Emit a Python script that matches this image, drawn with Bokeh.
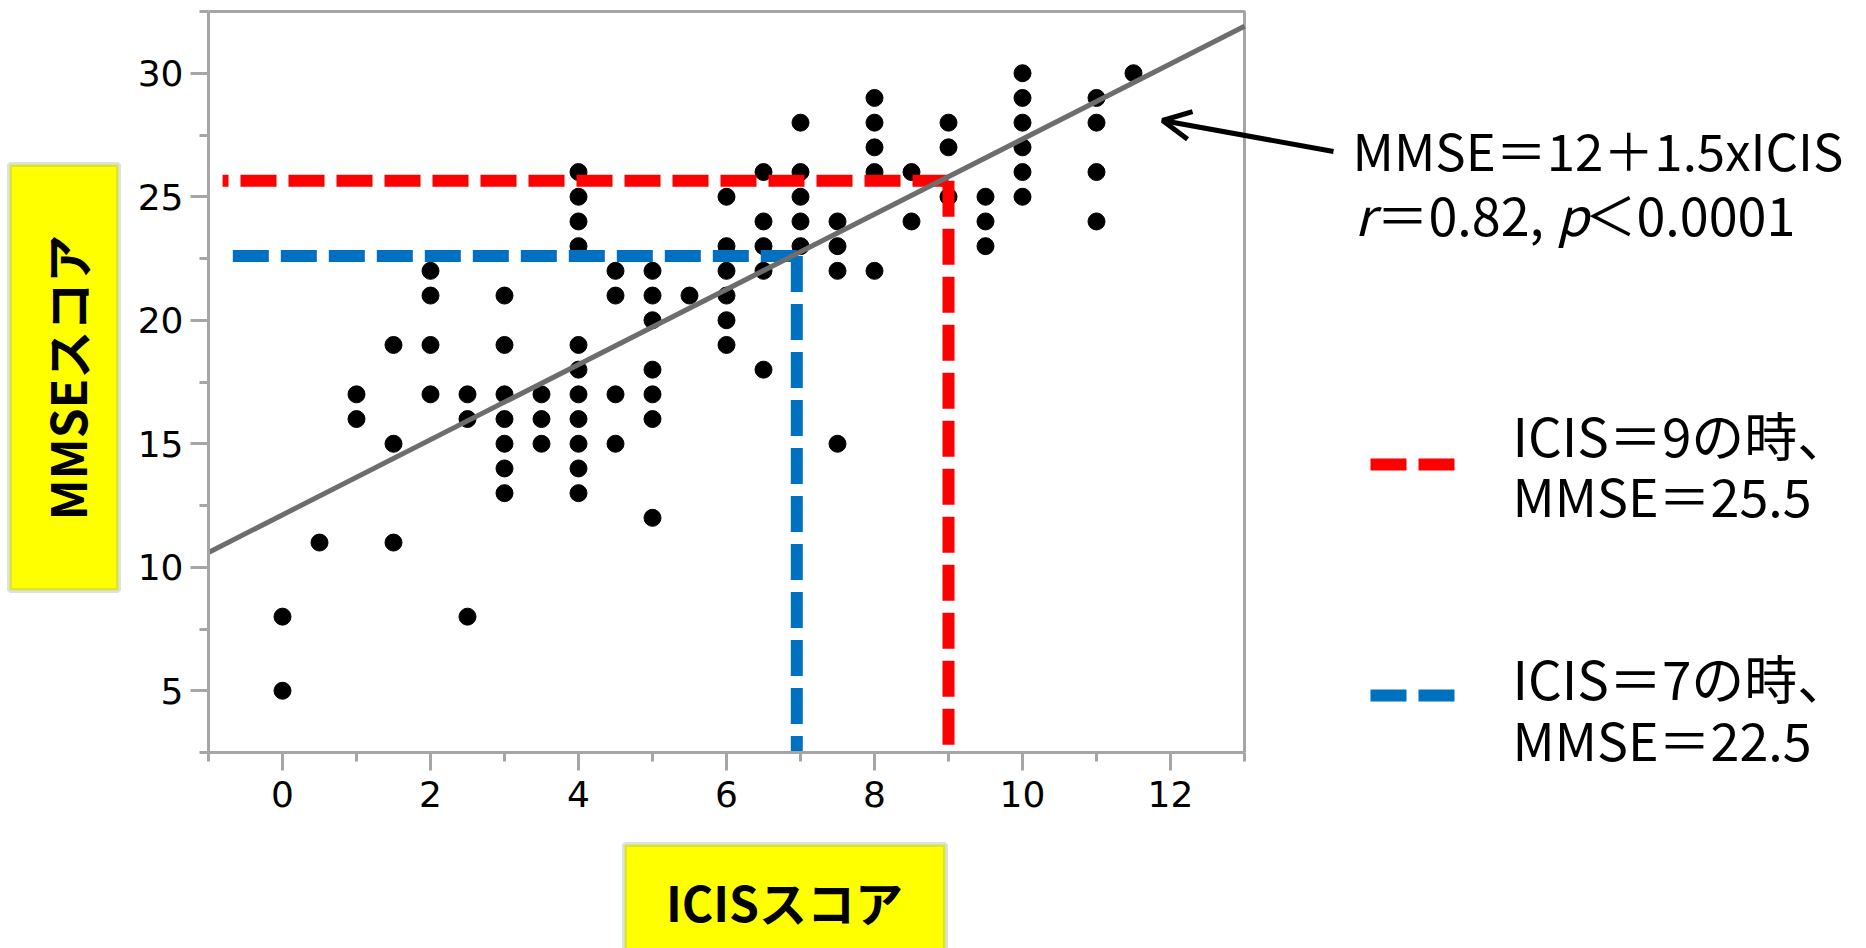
import math
from bokeh.plotting import figure
from bokeh.models import Label, BoxAnnotation, Arrow, OpenHead, FixedTicker, Range1d
from bokeh.embed import file_html
from bokeh.resources import INLINE

# ---------------- data ----------------
icis_scores = [0, 0, 0.5, 1, 1, 1.5, 1.5, 1.5, 2, 2, 2, 2, 2.5, 2.5, 2.5,
               3, 3, 3, 3, 3, 3, 3, 3.5, 3.5, 3.5,
               4, 4, 4, 4, 4, 4, 4, 4, 4, 4, 4,
               4.5, 4.5, 4.5, 4.5, 5, 5, 5, 5, 5, 5, 5, 5.5,
               6, 6, 6, 6, 6, 6, 6.5, 6.5, 6.5, 6.5, 6.5,
               7, 7, 7, 7, 7, 7.5, 7.5, 7.5, 7.5,
               8, 8, 8, 8, 8, 8.5, 8.5, 9, 9, 9, 9.5, 9.5, 9.5,
               10, 10, 10, 10, 10, 10, 11, 11, 11, 11, 11.5]
mmse_scores = [8, 5, 11, 17, 16, 19, 15, 11, 22, 21, 19, 17, 17, 16, 8,
               21, 19, 17, 16, 15, 14, 13, 17, 16, 15,
               26, 25, 24, 23, 19, 18, 17, 16, 15, 14, 13,
               22, 21, 17, 15, 22, 21, 20, 18, 17, 16, 12, 21,
               25, 23, 22, 21, 20, 19, 26, 24, 23, 22, 18,
               28, 26, 25, 24, 23, 24, 23, 22, 15,
               29, 28, 27, 26, 22, 26, 24, 28, 27, 25, 25, 24, 23,
               30, 29, 28, 27, 26, 25, 29, 28, 26, 24, 30]

fit_icis = [-1, 13]
fit_mmse = [10.6, 31.9]

red_icis, red_mmse = 9, 25.65
blue_icis, blue_mmse = 6.95, 22.6

x_ticks = [0, 2, 4, 6, 8, 10, 12]
x_minor = [-1, 1, 3, 5, 7, 9, 11, 13]
y_ticks = [5, 10, 15, 20, 25, 30]
y_minor = [2.5, 7.5, 12.5, 17.5, 22.5, 27.5, 32.5]

# ---------------- layout ----------------
W, H = 1866, 948
FL, FR, FT, FB = 208, 1244, 11, 752      # plot box edges in canvas pixels
X0, X1 = -1, 13
Y0, Y1 = 2.5, 32.5


def dx(cx):
    return X0 + (cx - FL) * (X1 - X0) / (FR - FL)


def dy(cy):
    return Y0 + (FB - cy) * (Y1 - Y0) / (FB - FT)


GREY = "#a6a6a6"
RED = "#ff0000"
BLUE = "#0070c0"
JP = "Noto Sans CJK JP"

p = figure(width=W, height=H, x_range=Range1d(dx(0), dx(W)), y_range=Range1d(dy(H), dy(0)),
           output_backend="svg", toolbar_location=None, title=None,
           min_border_left=0, min_border_right=0, min_border_top=0, min_border_bottom=0)
p.grid.visible = False
p.background_fill_color = "white"
p.border_fill_color = "white"
p.outline_line_color = None

p.xaxis.ticker = FixedTicker(ticks=x_ticks, minor_ticks=x_minor)
p.yaxis.ticker = FixedTicker(ticks=y_ticks, minor_ticks=y_minor)
p.xaxis.fixed_location = Y0
p.yaxis.fixed_location = X0
p.xaxis.bounds = (X0, X1)
p.yaxis.bounds = (Y0, Y1)
for ax in (p.xaxis[0], p.yaxis[0]):
    ax.axis_line_color = GREY
    ax.axis_line_width = 3
    ax.major_tick_line_color = GREY
    ax.major_tick_line_width = 3
    ax.minor_tick_line_color = GREY
    ax.minor_tick_line_width = 3
    ax.major_tick_in = 0
    ax.minor_tick_in = 0
    ax.major_tick_out = 18
    ax.minor_tick_out = 9
    ax.major_label_text_font = "DejaVu Sans"
    ax.major_label_text_font_size = "36px"
    ax.major_label_text_color = "black"
p.xaxis.major_label_standoff = 10
p.yaxis.major_label_standoff = 7

# top and right edges of the plot box
p.line([X0, X1, X1], [Y1, Y1, Y0], color=GREY, line_width=3)

# points
p.scatter(icis_scores, mmse_scores, size=17, color="black")

# reference dashed lines
p.line([red_icis, -0.81], [red_mmse, red_mmse], color=RED, line_width=12, line_dash="36 12")
p.line([red_icis, red_icis], [red_mmse, Y0], color=RED, line_width=12, line_dash="36 12")
p.line([blue_icis, -0.68], [blue_mmse, blue_mmse], color=BLUE, line_width=12, line_dash="36 12")
p.line([blue_icis, blue_icis], [blue_mmse, Y0], color=BLUE, line_width=12, line_dash="36 12")

# regression line
p.line(fit_icis, fit_mmse, color="#6d6d6d", line_width=5)

# axis-title boxes
p.add_layout(BoxAnnotation(left=dx(9), right=dx(118), top=dy(164), bottom=dy(590),
                           fill_color="#ffff00", fill_alpha=1, line_color="#8ca3a6", line_width=5))
p.add_layout(Label(x=dx(65), y=dy(377), text="MMSEスコア", angle=math.pi / 2,
                   text_align="center", text_baseline="middle", text_font=JP,
                   text_font_style="bold", text_font_size="48px", text_color="black"))
p.add_layout(BoxAnnotation(left=dx(624), right=dx(945), top=dy(844), bottom=dy(975),
                           fill_color="#ffff00", fill_alpha=1, line_color="#8ca3a6", line_width=5))
p.add_layout(Label(x=dx(784), y=dy(900), text="ICISスコア",
                   text_align="center", text_baseline="middle", text_font=JP,
                   text_font_style="bold", text_font_size="48px", text_color="black"))

# arrow and equation
p.add_layout(Arrow(end=OpenHead(size=28, line_width=5, line_color="black"),
                   x_start=dx(1333), y_start=dy(151), x_end=dx(1162), y_end=dy(120),
                   line_width=5, line_color="black"))


def lab(cx, cy, text, size, style="normal"):
    p.add_layout(Label(x=dx(cx), y=dy(cy), text=text, text_align="left",
                       text_baseline="middle", text_font=JP, text_font_style=style,
                       text_font_size=size, text_color="black"))


lab(1352, 148, "MMSE＝12＋1.5xICIS", "51px")
lab(1354, 213, "r", "52px", "italic")
lab(1376, 213, "＝0.82,", "52px")
lab(1556, 213, "p", "52px", "italic")
lab(1584, 213, "＜0.0001", "52px")

# legend-like keys
p.add_layout(Arrow(end=None, x_start=dx(1370), y_start=dy(464), x_end=dx(1454), y_end=dy(464),
                   line_color=RED, line_width=12, line_dash="36 12"))
p.add_layout(Arrow(end=None, x_start=dx(1370), y_start=dy(695), x_end=dx(1454), y_end=dy(695),
                   line_color=BLUE, line_width=12, line_dash="36 12"))
lab(1512, 433, "ICIS＝9の時、", "53px")
lab(1512, 494, "MMSE＝25.5", "52px")
lab(1512, 676, "ICIS＝7の時、", "53px")
lab(1512, 738, "MMSE＝22.5", "52px")

open("out.html", "w").write(file_html(p, INLINE))
